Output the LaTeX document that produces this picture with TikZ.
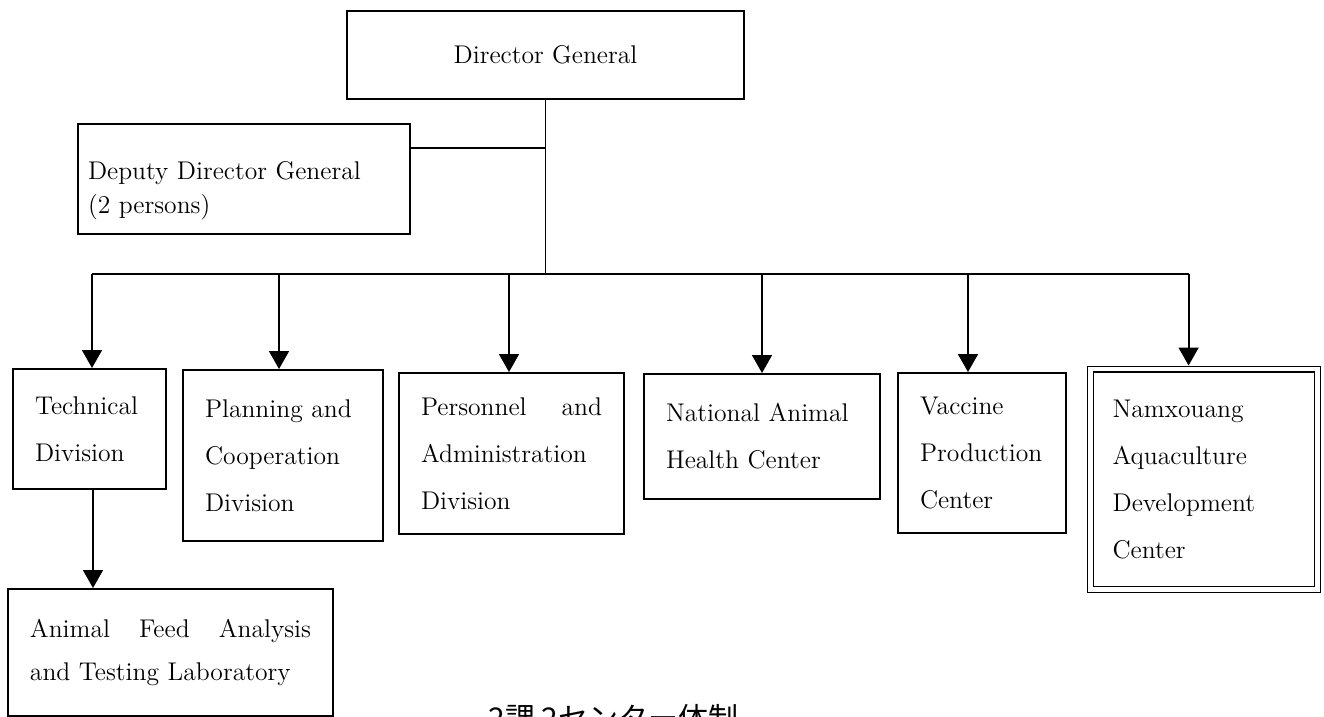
\documentclass[tikz,border=0pt]{standalone}
\usepackage{fontspec}
\newfontfamily\cjkfont{Noto Sans CJK JP}
\usetikzlibrary{arrows.meta}
\newcommand\mainfnt{\fontsize{12.8}{23.5}\selectfont}
\begin{document}
\begin{tikzpicture}[x=0.5pt,y=-0.5pt,
  box/.style={draw, line width=1pt, inner xsep=11pt, inner ysep=0pt,
    anchor=north west, align=left, font=\mainfnt},
  conn/.style={line width=0.9pt},
  arr/.style={line width=0.9pt, -{Triangle[width=10pt,length=9pt]}}]
\fill[white] (0,0) rectangle (1324,717);
\useasboundingbox (0,0) rectangle (1324,717);

% boxes
\node[box, align=center, minimum width=198.5pt, minimum height=44pt] (dg) at (346,10) {Director General};
\node[box, inner xsep=5pt, text width=156pt, minimum height=55pt,
  font=\fontsize{12.8}{17}\selectfont] (dep) at (77,123)
  {\rule{0pt}{21pt}Deputy Director General\\(2 persons)};
\node[box, text width=54.5pt, minimum height=60pt] (tech) at (12,368) {Technical\\Division};
\node[box, text width=78pt, minimum height=85.5pt] (plan) at (182,369) {Planning and\\Cooperation\\Division};
\node[box, text width=90.5pt, minimum height=80.5pt] (pers) at (398,372) {Personnel\hfill and\\Administration\\Division};
\node[box, text width=96pt, minimum height=62.5pt] (nahc) at (643,373) {National Animal\\Health Center};
\node[box, text width=62pt, minimum height=80pt] (vac) at (897,372) {Vaccine\\Production\\Center};
\node[box, double, double distance=2.2pt, line width=0.6pt, text width=91.5pt,
  minimum width=113.5pt, minimum height=110.25pt] (nam) at (1090,368.5)
  {Namxouang\\Aquaculture\\Development\\Center};
\node[box, text width=140.5pt, minimum height=63.5pt,
  font=\fontsize{12.8}{21.5}\selectfont] (feed) at (7,588)
  {Animal\hfill Feed\hfill Analysis\\and Testing Laboratory};

% connectors
\coordinate (bus) at (544,274);
\coordinate (dj) at (544,148);
\draw[conn] (dg.south) -- (dg.south |- bus);
\draw[conn] (dep.east |- dj) -- (dg.south |- dj);
\draw[conn] ([xshift=1.25pt]tech.north |- bus) -- ([xshift=-7.75pt]nam.north |- bus);
\draw[arr] ([xshift=1.25pt]tech.north |- bus) -- ([xshift=1.25pt]tech.north);
\draw[arr] ([xshift=-2pt]plan.north |- bus) -- ([xshift=-2pt]plan.north);
\draw[arr] ([xshift=-1.25pt]pers.north |- bus) -- ([xshift=-1.25pt]pers.north);
\draw[arr] (nahc.north |- bus) -- (nahc.north);
\draw[arr] ([xshift=-7pt]vac.north |- bus) -- ([xshift=-7pt]vac.north);
\draw[arr] ([xshift=-7.75pt]nam.north |- bus) -- ([xshift=-7.75pt,yshift=1.5pt]nam.north);
\draw[arr] ([xshift=1.75pt]tech.south) -- ([xshift=1.75pt]tech.south |- feed.north);

% caption (cut off at the bottom edge)
\node[anchor=north west, inner sep=0pt, font=\cjkfont\fontsize{15}{15}\selectfont] (cap) at (488,704) {2課 2センター体制};
\end{tikzpicture}
\end{document}
